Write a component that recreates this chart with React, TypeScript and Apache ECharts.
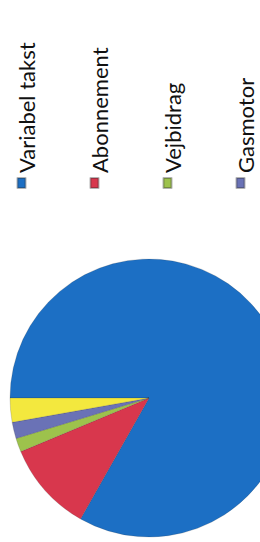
import React, { useEffect, useRef } from "react";
import * as echarts from "echarts";

const categories = ["Variabel takst", "Abonnement", "Vejbidrag", "Gasmotor", "Øvrige"];
const values = [83.2, 10.5, 1.6, 1.9, 2.8];
const colors = ["#1c6fc4", "#d8374d", "#9dc24c", "#6a72b6", "#f3e83e"];
const legendNames = ["Variabel takst", "Abonnement", "Vejbidrag", "Gasmotor"];

export default function App() {
  const ref = useRef<HTMLDivElement>(null);
  useEffect(() => {
    if (!ref.current) return;
    const chart = echarts.init(ref.current, undefined, { renderer: "svg" });
    chart.setOption({
      animation: false,
      backgroundColor: "#ffffff",
      color: colors,
      legend: {
        orient: "vertical",
        left: 353,
        top: 5.5,
        height: 500,
        padding: 0,
        data: legendNames,
        icon: "rect",
        itemWidth: 10,
        itemHeight: 8,
        itemGap: 41,
        formatter: (name: string) => `{t|${name}}`,
        textStyle: {
          fontFamily: "Lato",
          fontSize: 22,
          color: "#111111",
          rich: {
            t: {
              fontFamily: "Lato",
              fontSize: 22,
              color: "#111111",
              lineHeight: 22,
              padding: [10, 0, 0, 0],
            },
          },
        },
        selectedMode: false,
      },
      series: [
        {
          type: "pie",
          center: [144, 149],
          radius: 139,
          startAngle: 90,
          clockwise: true,
          label: { show: false },
          labelLine: { show: false },
          emphasis: { disabled: true },
          itemStyle: { borderColor: "rgba(40,40,40,0.35)", borderWidth: 0.5 },
          data: categories.map((name, i) => ({ name, value: values[i] })),
        },
      ],
    });
    return () => chart.dispose();
  }, []);

  return (
    <div
      style={{
        position: "fixed",
        left: 0,
        top: 0,
        width: 260,
        height: 542,
        overflow: "hidden",
        background: "#ffffff",
      }}
    >
      <div
        ref={ref}
        style={{
          position: "absolute",
          left: 0,
          top: 0,
          width: 542,
          height: 260,
          transformOrigin: "0 0",
          transform: "translateY(542px) rotate(-90deg)",
        }}
      />
    </div>
  );
}
